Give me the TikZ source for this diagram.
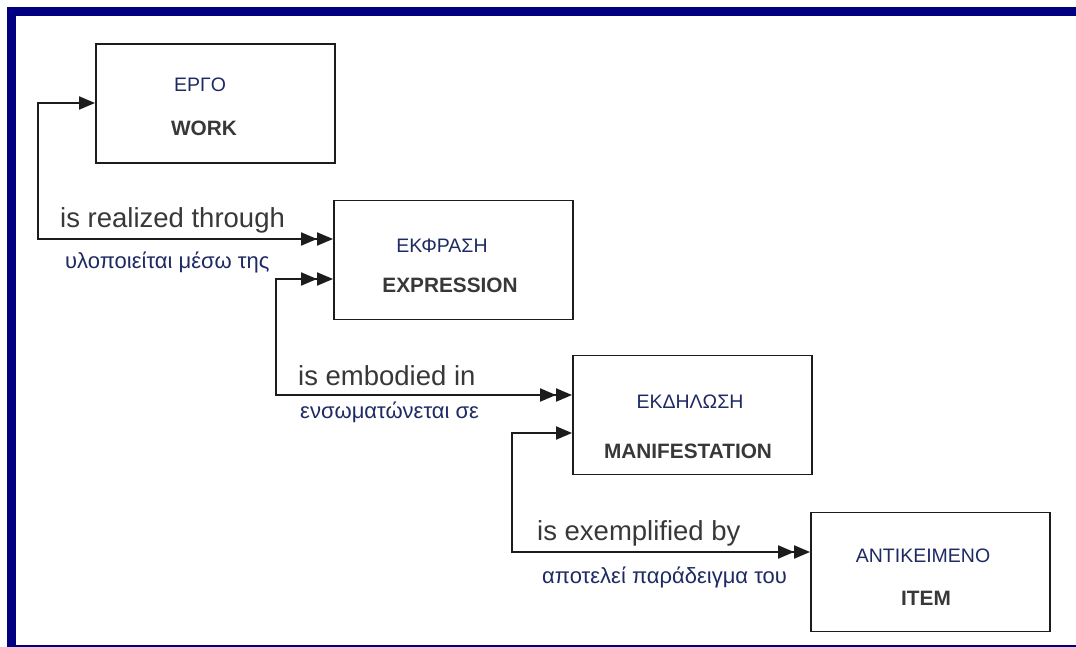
\documentclass[tikz,border=0pt]{standalone}
\usepackage{fontspec}
\setmainfont{Liberation Sans}
\usetikzlibrary{arrows.meta}
\definecolor{frameblue}{HTML}{000080}
\definecolor{greektext}{HTML}{1E2A62}
\definecolor{labeltext}{HTML}{383838}
\definecolor{linecol}{HTML}{1C1C1C}
\tikzset{
  entity/.style={draw=linecol, line width=1.9pt, minimum width=239pt, minimum height=119pt, inner sep=0pt},
  greektitle/.style={anchor=base, inner sep=0pt, text=greektext, font=\fontsize{19.5}{22}\selectfont},
  entitytitle/.style={anchor=base, inner sep=0pt, text=labeltext, font=\fontsize{20.8}{24}\selectfont\bfseries},
  rellabel/.style={anchor=base west, inner sep=0pt, text=labeltext, font=\fontsize{27.5}{31}\selectfont},
  greeklabel/.style={anchor=base west, inner sep=0pt, text=greektext, font=\fontsize{22}{26}\selectfont},
  link/.style={draw=linecol, line width=1.9pt},
  tipone/.tip={Triangle[length=16pt,width=13pt]},
}
\begin{document}
\begin{tikzpicture}[x=1pt,y=-1pt]
\useasboundingbox (0,0) rectangle (1076,647);
\fill[white] (0,0) rectangle (1076,647);
% frame
\fill[frameblue] (7,7) rectangle (1076,16);
\fill[frameblue] (7,7) rectangle (16,647);
\fill[frameblue] (16,645) rectangle (1076,647);

% entities
\node[entity] (work) at (215.5,103.5) {};
\node[entity] (expression) at (453.5,260) {};
\node[entity] (manifestation) at (692.5,415) {};
\node[entity] (item) at (930.5,572) {};

\node[greektitle] (workgr) at (200,92) {ΕΡΓΟ};
\node[entitytitle] (worken) at (204,136) {WORK};
\node[greektitle] (exprgr) at (442,252) {ΕΚΦΡΑΣΗ};
\node[entitytitle] (expren) at (450,292) {EXPRESSION};
\node[greektitle] (mangr) at (690,408) {ΕΚΔΗΛΩΣΗ};
\node[entitytitle] (manen) at (688,458) {MANIFESTATION};
\node[greektitle] (itemgr) at (923,562) {ΑΝΤΙΚΕΙΜΕΝΟ};
\node[entitytitle] (itemen) at (926,605) {ITEM};

% connector corners
\coordinate (r1) at (38,103);
\coordinate (r2) at (38,239);
\coordinate (e1) at (276,279);
\coordinate (e2) at (276,395);
\coordinate (x1) at (512,433);
\coordinate (x2) at (512,552);

% relationships
\draw[link, {tipone}-{tipone[]tipone[]}] (work.west |- r1) -- (r1) -- (r2) -- (expression.west |- r2);
\draw[link, {tipone[]tipone[]}-{tipone[]tipone[]}] (expression.west |- e1) -- (e1) -- (e2) -- (manifestation.west |- e2);
\draw[link, {tipone}-{tipone[]tipone[]}] (manifestation.west |- x1) -- (x1) -- (x2) -- (item.west |- x2);

% relationship labels
\node[rellabel] (l1) at (60,227) {is realized through};
\node[greeklabel] (g1) at (65,269) {υλοποιείται μέσω της};
\node[rellabel] (l2) at (298,385) {is embodied in};
\node[greeklabel] (g2) at (300,418) {ενσωματώνεται σε};
\node[rellabel] (l3) at (537,540) {is exemplified by};
\node[greeklabel] (g3) at (542,583) {αποτελεί παράδειγμα του};
\end{tikzpicture}
\end{document}
